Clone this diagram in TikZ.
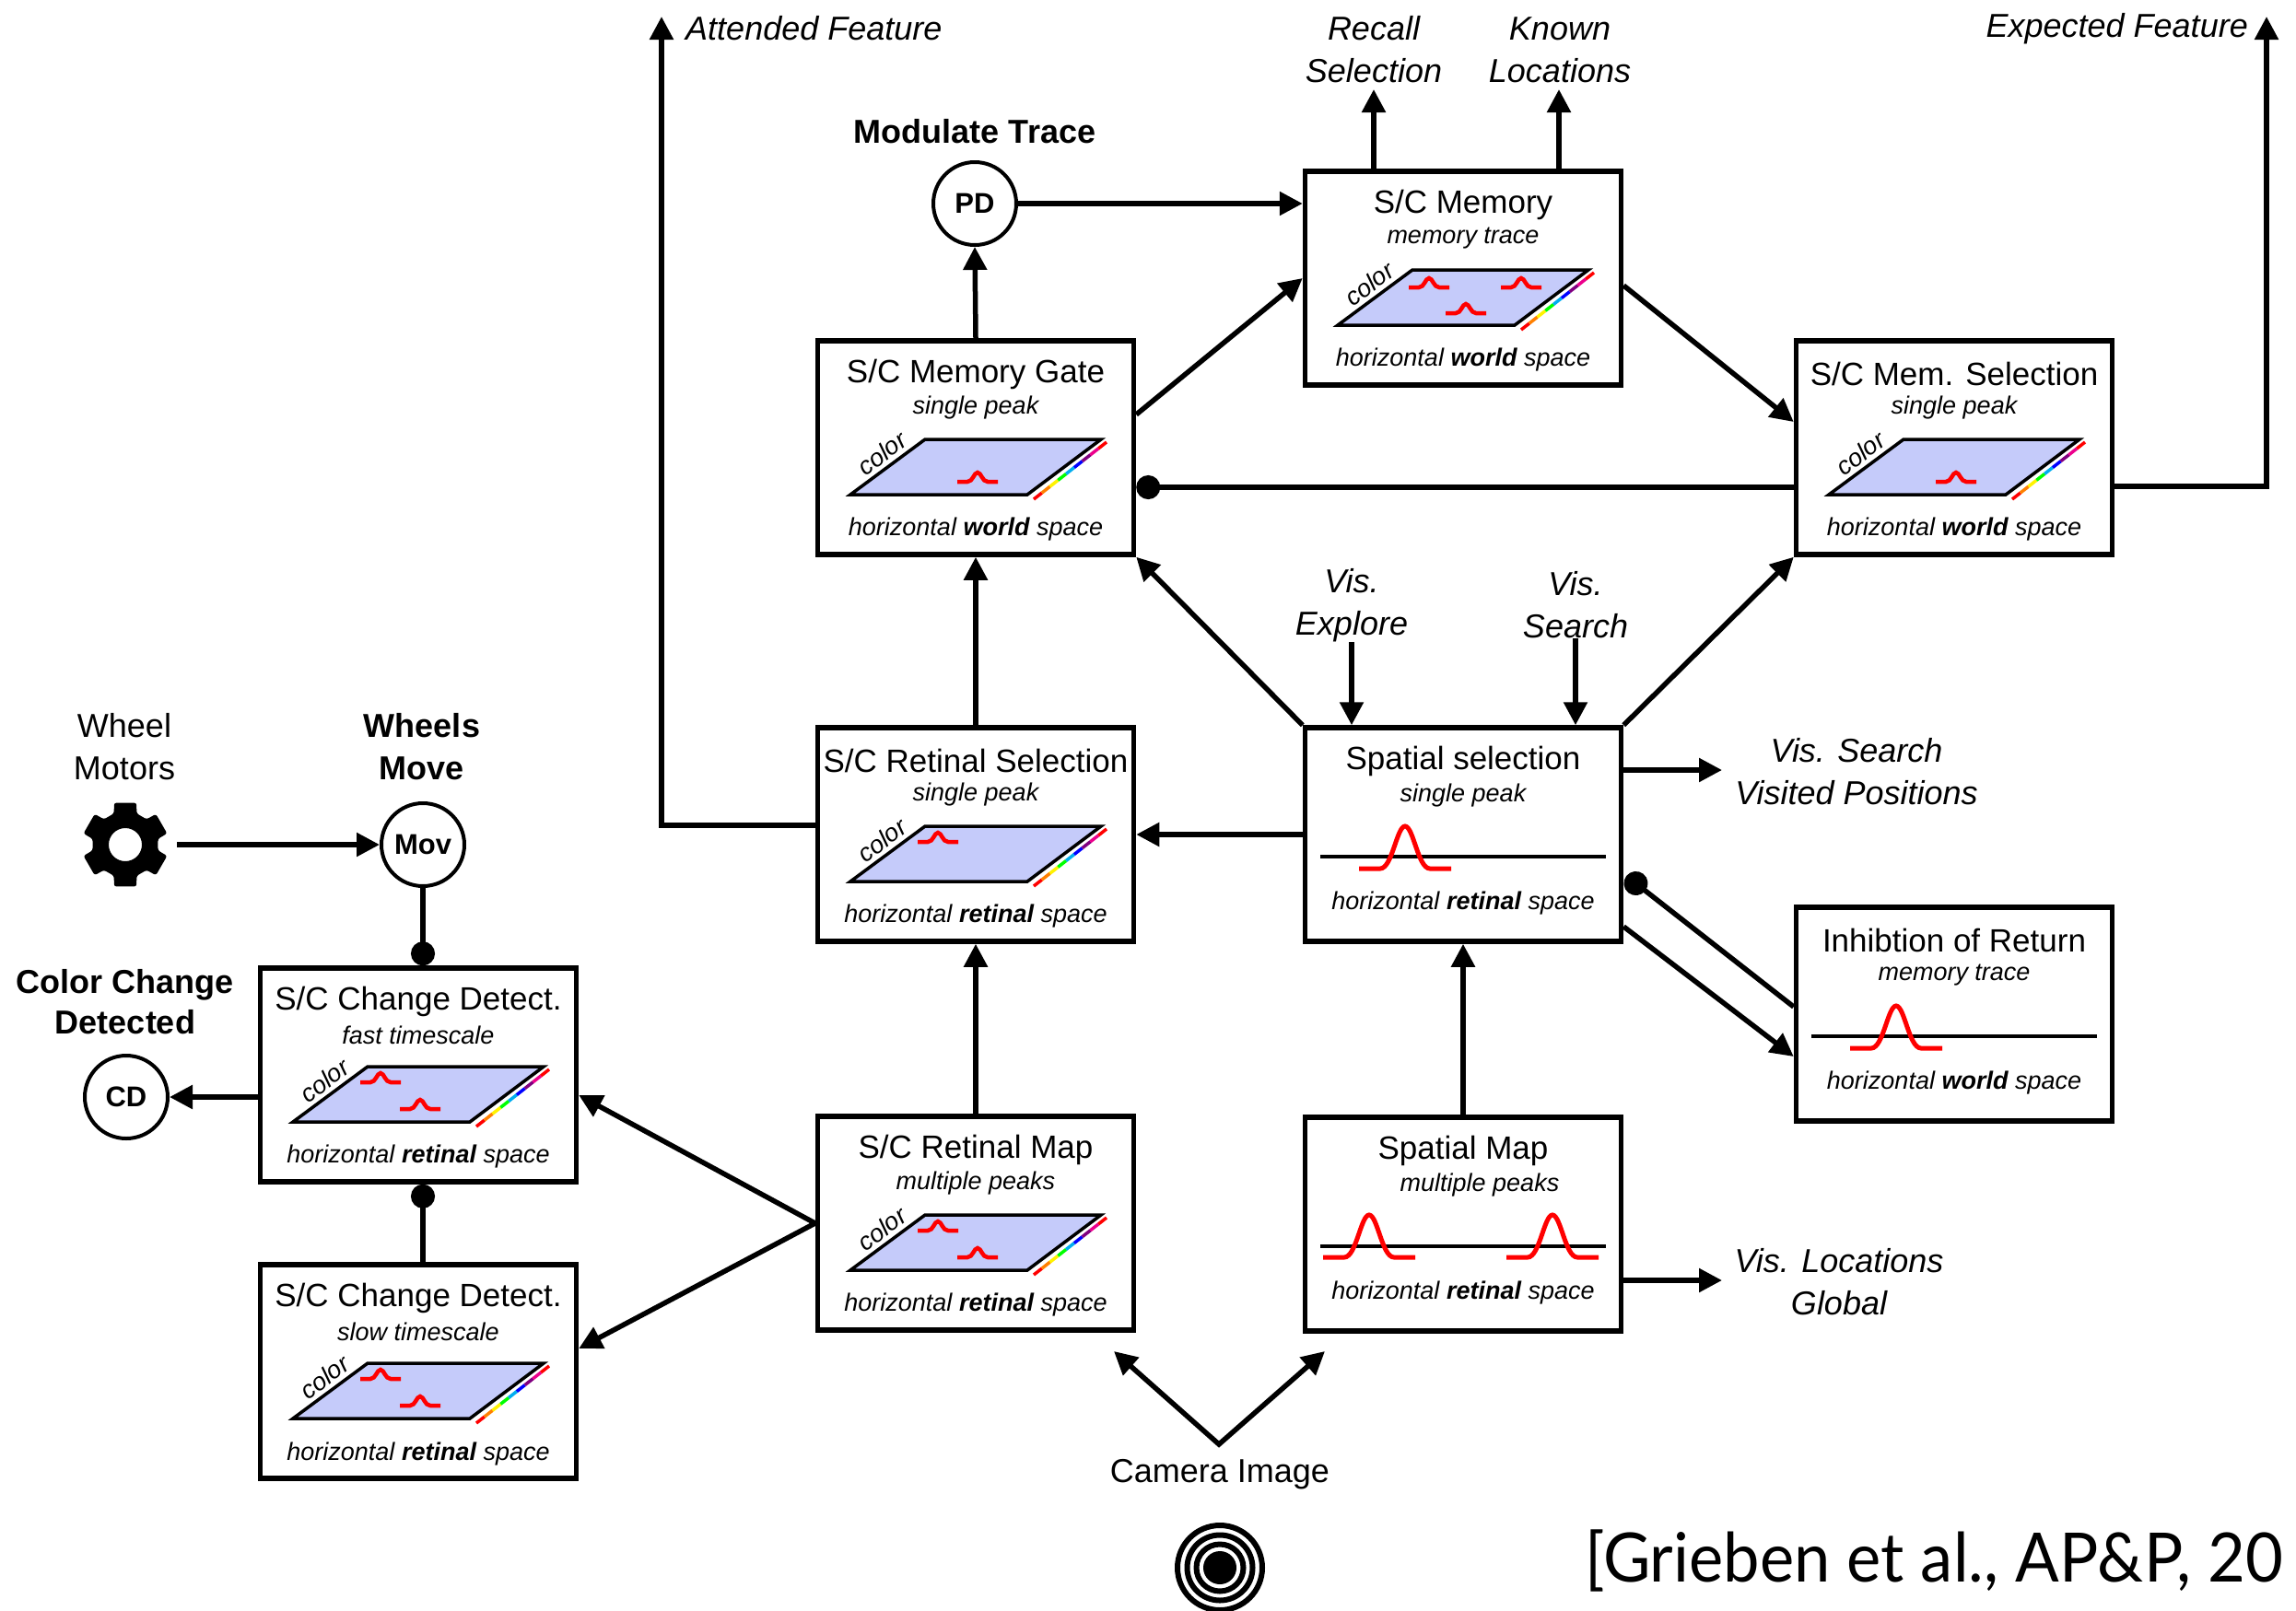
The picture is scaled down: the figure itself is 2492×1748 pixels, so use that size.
\documentclass[tikz,border=0pt]{standalone}
\usepackage{fontspec}
\usepackage{graphicx}
\setmainfont{Liberation Sans}
\newfontfamily\citefont{Lato}
\usetikzlibrary{arrows.meta,calc}

\definecolor{planefill}{RGB}{197,203,250}
\definecolor{peakred}{RGB}{255,0,0}

\tikzset{
  box/.style={draw, line width=5.5pt, minimum width=343pt, minimum height=232pt, inner sep=0pt, fill=white},
  unit/.style={draw, circle, line width=4pt, minimum size=90pt, inner sep=0pt, font=\fontsize{31}{31}\selectfont\bfseries},
  title/.style={font=\fontsize{35}{40}\selectfont, inner sep=0pt},
  sub/.style={font=\fontsize{27}{32}\selectfont\itshape, inner sep=0pt},
  lbl/.style={font=\fontsize{36}{46}\selectfont, align=center, inner sep=0pt},
  ilbl/.style={lbl, font=\fontsize{36}{46}\selectfont\itshape},
  blbl/.style={lbl, font=\fontsize{36}{46}\selectfont\bfseries},
  wire/.style={line width=5.5pt},
  arr/.style={wire, -{Triangle[length=25pt,width=25pt]}},
  arrtwo/.style={wire, line join=miter, {Triangle[length=25pt,width=25pt]}-{Triangle[length=25pt,width=25pt]}},
  inh/.style={wire, -{Circle[length=26pt]}},
  axisline/.style={line width=3.5pt},
  % colour/space plane with the colour axis drawn as a rainbow
  colorplane/.pic={
    \fill[planefill] (-136,51) -- (56,51) -- (136,-9) -- (-55,-9) -- cycle;
    \draw[line width=3.5pt, line join=miter] (-136,51) -- (56,51) -- (136,-9) -- (-55,-9) -- cycle;
    \node[sub, rotate=36.5] (c) at (-102,6) {color};
    \foreach \col [count=\i from 0, evaluate=\i as \a using \i/9, evaluate=\i as \b using (\i+1)/9] in {red,orange,yellow,green,cyan,blue,violet,magenta,red}{
      \draw[\col, line width=3.5pt] ($(63,56)!\a!(142,-6)$) -- ($(63,56)!\b!(142,-6)$);
    }
  },
  smallpeak/.pic={
    \draw[peakred, line width=4.5pt] (-22,0) -- (-11,0) .. controls (-5,0) and (-4,-10) .. (0,-10) .. controls (4,-10) and (5,0) .. (11,0) -- (22,0);
  },
  bigpeak/.pic={
    \draw[peakred, line width=5pt] (-50,0) -- (-27,0) .. controls (-14,0) and (-9,-46) .. (0,-46) .. controls (9,-46) and (14,0) .. (27,0) -- (50,0);
  },
}

% box holding a colour/space plane
\newcommand\planeunit[5]{%
  \node[box] (#1) at #2 {};
  \pic (#1-pl) at #2 {colorplane};
  \node[title] (#1-t) at ($(#1)+(0,-80)$) {#3};
  \node[sub] (#1-s) at ($(#1)+(0,-43)$) {#4};
  \node[sub] (#1-b) at ($(#1)+(0,89)$) {horizontal {\bfseries #5} space};
}
% box holding a one-dimensional field over a line
\newcommand\lineunit[6]{%
  \node[box] (#1) at #2 {};
  \node[title] (#1-t) at ($(#1)+(0,-80)$) {#3};
  \node[sub] (#1-s) at ($(#1)+(#6,-42)$) {#4};
  \draw[axisline] ($(#1)+(-155,24)$) -- ($(#1)+(155,24)$);
  \node[sub] (#1-b) at ($(#1)+(0,75)$) {horizontal {\bfseries #5} space};
}

\begin{document}
\begin{tikzpicture}[x=1pt, y=-1pt]
\fill[white] (0,0) rectangle (2492,1748);
\useasboundingbox (0,0) rectangle (2492,1748);

% ---------- field boxes ----------
\planeunit{mem}{(1588,302)}{S/C Memory}{memory trace}{world}
\pic at ($(mem)+(-37,10)$) {smallpeak};
\pic at ($(mem)+(63,10)$) {smallpeak};
\pic at ($(mem)+(3,38)$) {smallpeak};

\planeunit{gate}{(1059,486)}{S/C Memory Gate}{single peak}{world}
\pic at ($(gate)+(2,37)$) {smallpeak};

\planeunit{msel}{(2121,486)}{S/C Mem. Selection}{single peak}{world}
\pic at ($(msel)+(2,37)$) {smallpeak};

\planeunit{rsel}{(1059,906)}{S/C Retinal Selection}{single peak}{retinal}
\pic at ($(rsel)+(-41,8)$) {smallpeak};

\planeunit{rmap}{(1059,1328)}{S/C Retinal Map}{multiple peaks}{retinal}
\pic at ($(rmap)+(-41,8)$) {smallpeak};
\pic at ($(rmap)+(2,37)$) {smallpeak};

\planeunit{cdf}{(454,1167)}{S/C Change Detect.}{fast timescale}{retinal}
\pic at ($(cdf)+(-41,8)$) {smallpeak};
\pic at ($(cdf)+(2,37)$) {smallpeak};

\planeunit{cds}{(454,1489)}{S/C Change Detect.}{slow timescale}{retinal}
\pic at ($(cds)+(-41,8)$) {smallpeak};
\pic at ($(cds)+(2,37)$) {smallpeak};

\lineunit{ssel}{(1588,906)}{Spatial selection}{single peak}{retinal}{0}
\pic at ($(ssel)+(-63,37)$) {bigpeak};

\lineunit{ior}{(2121,1101)}{Inhibtion of Return}{memory trace}{world}{0}
\pic at ($(ior)+(-63,37)$) {bigpeak};

\lineunit{smap}{(1588,1329)}{Spatial Map}{multiple peaks}{retinal}{18}
\pic at ($(smap)+(-102,36)$) {bigpeak};
\pic at ($(smap)+(97,36)$) {bigpeak};

% ---------- units and icons ----------
\node[unit] (pd) at (1058,221) {PD};
\node[unit] (mov) at (459,917) {Mov};
\node[unit] (cd) at (137,1191) {CD};

\node[minimum size=92pt, inner sep=0pt] (gear) at (136,917) {};
\begin{scope}[shift={(gear.center)}]
  \fill[even odd rule, rounded corners=2.5pt]
    (70:36) -- (75:47) -- (105:47) -- (110:36) --
    (130:36) -- (135:47) -- (165:47) -- (170:36) --
    (190:36) -- (195:47) -- (225:47) -- (230:36) --
    (250:36) -- (255:47) -- (285:47) -- (290:36) --
    (310:36) -- (315:47) -- (345:47) -- (350:36) --
    (10:36) -- (15:47) -- (45:47) -- (50:36) -- cycle
    (0,0) circle[radius=18];
\end{scope}

\node[minimum size=100pt, inner sep=0pt] (cam) at (1324,1702) {};
\draw[line width=6pt] (cam.center) circle[radius=46];
\draw[line width=6pt] (cam.center) circle[radius=35.5];
\draw[line width=6pt] (cam.center) circle[radius=25.5];
\fill (cam.center) circle[radius=18];

% ---------- labels ----------
\node[blbl] (mt) at (1058,143) {Modulate Trace};
\node[lbl] (wm) at (135,811) {Wheel\\Motors};
\node[blbl] (wmv) at (458,811) {Wheels\\Move};
\node[blbl, font=\fontsize{36}{44}\selectfont\bfseries] (ccd) at (136,1088) {Color Change\\Detected};
\node[lbl] (camlbl) at (1324,1601) {Camera Image};

\node[ilbl, anchor=west] (af) at (744,31) {Attended Feature};
\node[ilbl] (rec) at (1491,54) {Recall\\Selection};
\node[ilbl] (kl) at (1693,54) {Known\\Locations};
\node[ilbl, anchor=east] (ef) at (2440,31) {Expected Feature};
\node[ilbl] (vexp) at (1467,657) {Vis.\\Explore};
\node[ilbl] (vsea) at (1710,657) {Vis.\\Search};
\node[ilbl] (vsp) at (2015,838) {Vis. Search\\Visited Positions};
\node[ilbl] (vlg) at (1996,1392) {Vis. Locations\\Global};

\node[anchor=base west, inner sep=0pt] (cite) at (1720,1717)
  {\resizebox{758pt}{\height}{\citefont\fontsize{74}{74}\selectfont [Grieben et al., AP\&P, 20}};

% ---------- free ends ----------
\coordinate (af-a) at (718,18);
\coordinate (rec-a) at (1491,97);
\coordinate (kl-a) at (1692,97);
\coordinate (ef-a) at (2460,18);
\coordinate (vsp-a) at (1869,836);
\coordinate (vlg-a) at (1869,1390);
\coordinate (camv) at (1323,1568);
\coordinate (cam-l) at (1209,1467);
\coordinate (cam-r) at (1438,1467);

% ---------- connections ----------
\draw[arr] (pd) -- (mem.west |- pd);
\draw[arr] (gate.north) -- (pd.south);
\draw[arr] ($(gate.east)+(0,-36)$) -- (mem.west);
\draw[arr] ($(mem.east)+(0,8)$) -- ($(msel.west)+(0,-28)$);
\draw[inh] ($(msel.west)+(0,43)$) -- ($(gate.east)+(0,43)$);
\draw[arr] (rsel.north) -- (gate.south);
\draw[arr] (ssel.north west) -- (gate.south east);
\draw[arr] (ssel.north east) -- (msel.south west);
\draw[arr] (vexp.south) -- (vexp.south |- ssel.north);
\draw[arr] (vsea.south) -- (vsea.south |- ssel.north);
\draw[arr] (ssel.west) -- (rsel.east);
\draw[arr] ($(ssel.east)+(0,-70)$) -- (vsp-a);
\draw[arr] ($(ssel.east)+(0,100)$) -- ($(ior.west)+(0,46)$);
\draw[inh] ($(ior.west)+(0,-8)$) -- ($(ssel.east)+(3,45)$);
\draw[arr] (rmap.north) -- (rsel.south);
\draw[arr] (smap.north) -- (ssel.south);
\draw[arr] ($(smap.east)+(0,61)$) -- (vlg-a);
\draw[arr] (rmap.west) -- ($(cdf.east)+(0,22)$);
\draw[arr] (rmap.west) -- ($(cds.east)+(0,-25)$);
\draw[arr] (cdf.west |- cd) -- (cd);
\draw[inh] (mov) -- (mov |- cdf.north);
\draw[inh] (mov |- cds.north) -- (mov |- cdf.south);
\draw[arr] ([xshift=10pt]gear.east) -- (mov);
\draw[arr] ($(rsel.west)+(0,-10)$) -| (af-a);
\draw[arr] (mem.north -| rec-a) -- (rec-a);
\draw[arr] (mem.north -| kl-a) -- (kl-a);
\draw[arr] ($(msel.east)+(0,42)$) -| (ef-a);
\draw[arrtwo] (cam-l) -- (camv) -- (cam-r);
\end{tikzpicture}
\end{document}
